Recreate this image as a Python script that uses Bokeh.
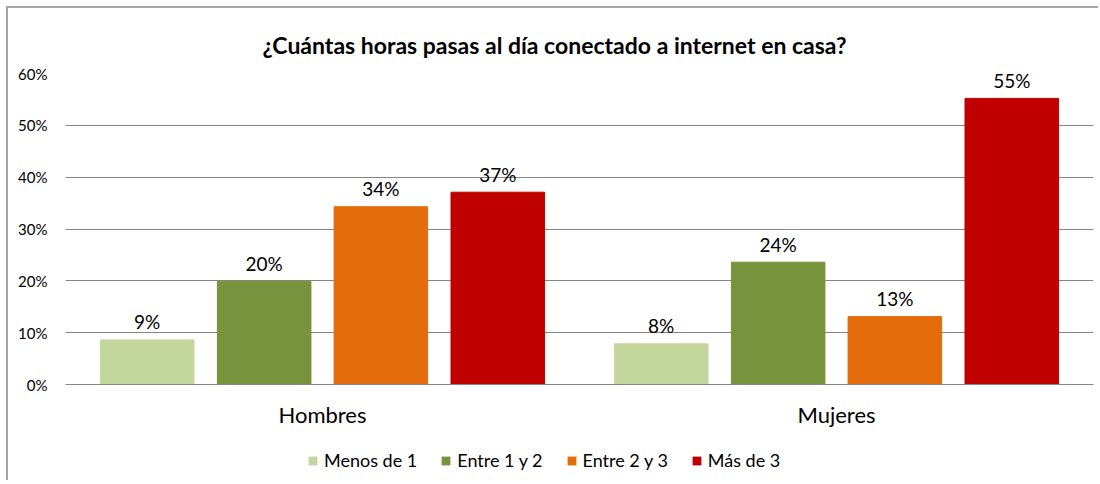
from bokeh.plotting import figure
from bokeh.layouts import column
from bokeh.models import ColumnDataSource, FactorRange, Range1d, Legend, LegendItem, PrintfTickFormatter, FixedTicker
from bokeh.transform import dodge
from bokeh.embed import file_html
from bokeh.resources import INLINE

groups = ["Hombres", "Mujeres"]
series = ["Menos de 1", "Entre 1 y 2", "Entre 2 y 3", "Más de 3"]
menos_de_1 = [8.6, 7.85]
entre_1_y_2 = [19.9, 23.6]
entre_2_y_3 = [34.3, 13.1]
mas_de_3 = [37.1, 55.2]
colors = ["#c3d69b", "#77933c", "#e46c0a", "#c00000"]
y_ticks = [0, 10, 20, 30, 40, 50, 60]

values = [menos_de_1, entre_1_y_2, entre_2_y_3, mas_de_3]
offsets = [-0.341, -0.1135, 0.1135, 0.341]
bar_w = 0.182

FONT = "Lato"

p = figure(x_range=FactorRange(*groups), y_range=Range1d(0, 60),
           width=1090, height=432, output_backend="svg", toolbar_location=None,
           min_border_left=57, min_border_right=5, min_border_top=65, min_border_bottom=56)
p.outline_line_color = None
p.background_fill_color = "white"
p.border_fill_color = "white"

p.title.text = "¿Cuántas horas pasas al día conectado a internet en casa?"
p.title.align = "left"
p.title.text_font = FONT
p.title.text_font_size = "23px"
p.title.text_font_style = "bold"
p.title.text_color = "#000000"
p.title.offset = 197
p.title.standoff = 30

# strip that carries the legend (its bars have zero size and lie outside its range)
lg = figure(x_range=FactorRange(*groups), y_range=Range1d(-2, -1),
            width=1090, height=40, output_backend="svg", toolbar_location=None,
            min_border=0, min_border_left=0, min_border_right=0, min_border_top=0, min_border_bottom=0)
lg.axis.visible = False
lg.grid.visible = False
lg.outline_line_color = None

items = []
for name, vals, off, col in zip(series, values, offsets, colors):
    labels = ["%d%%" % int(round(v)) for v in vals]
    src = ColumnDataSource(dict(g=groups, v=vals, lab=labels))
    p.vbar(x=dodge("g", off, range=p.x_range), top="v", width=bar_w, source=src,
           fill_color=col, line_color=col, line_width=1)
    p.text(x=dodge("g", off, range=p.x_range), y="v", text="lab", source=src,
           text_align="center", text_baseline="alphabetic", y_offset=-18,
           text_font_size="19px", text_color="#000000", text_font={"value": FONT})
    r = lg.vbar(x=dodge("g", off, range=lg.x_range), top="v", bottom="v", width=0, source=src,
                fill_color=col, line_color=None)
    items.append(LegendItem(label=name, renderers=[r]))

p.yaxis.ticker = FixedTicker(ticks=y_ticks)
p.yaxis.formatter = PrintfTickFormatter(format="%d%%")
p.yaxis.axis_line_color = None
p.yaxis.major_tick_line_color = None
p.yaxis.minor_tick_line_color = None
p.yaxis.major_label_standoff = 12
p.yaxis.major_label_text_font = FONT
p.yaxis.major_label_text_font_size = "15px"
p.yaxis.major_label_text_color = "#000000"

p.xaxis.axis_line_color = "#868686"
p.xaxis.axis_line_width = 1
p.xaxis.major_tick_line_color = None
p.xaxis.minor_tick_line_color = None
p.xaxis.major_label_standoff = 10
p.xaxis.major_label_text_font = FONT
p.xaxis.major_label_text_font_size = "22px"
p.xaxis.major_label_text_color = "#000000"

p.xgrid.grid_line_color = None
p.ygrid.grid_line_color = "#868686"
p.ygrid.grid_line_width = 1

legend = Legend(items=items, orientation="horizontal", location=(242, 9),
                glyph_width=11, glyph_height=11, label_standoff=6, spacing=23,
                label_text_font=FONT, label_text_font_size="18px", label_text_color="#000000",
                padding=0, margin=0, border_line_color=None, background_fill_alpha=0)
lg.add_layout(legend, "center")

layout = column(p, lg, spacing=0,
                styles={"border-left": "2px solid #a6a6a6", "border-top": "2px solid #a6a6a6",
                        "margin-left": "6px", "margin-top": "6px"})

open("out.html", "w").write(file_html(layout, INLINE))
